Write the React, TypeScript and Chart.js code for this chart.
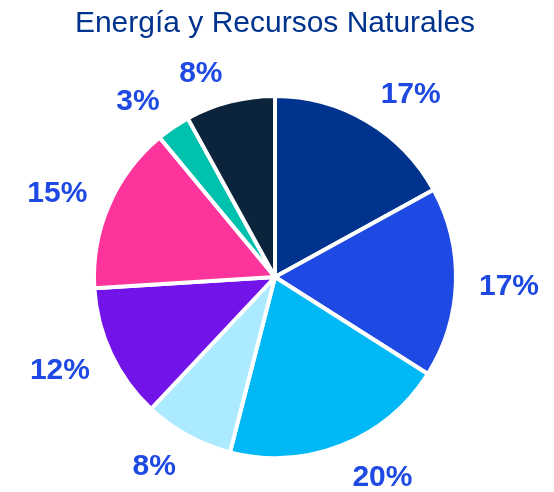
import { useEffect, useRef } from 'react';
import { Chart, registerables } from 'chart.js';

Chart.register(...registerables);

const TITLE = 'Energía y Recursos Naturales';
const categories = ['Segmento 1', 'Segmento 2', 'Segmento 3', 'Segmento 4', 'Segmento 5', 'Segmento 6', 'Segmento 7', 'Segmento 8'];
const values = [17, 17, 20, 8, 12, 15, 3, 8];
const sliceColors = ['#00338D', '#1E49E2', '#00B8F5', '#ACEAFF', '#7213EA', '#FD349C', '#00C0AE', '#0C233C'];

const FONT = '"Liberation Sans", Arial, Helvetica, sans-serif';
const BORDER = 4;

const outsideLabels = {
  id: 'outsideLabels',
  afterDatasetsDraw(chart: any) {
    const ctx = chart.ctx;
    const meta = chart.getDatasetMeta(0);
    const data = chart.data.datasets[0].data as number[];
    const total = data.reduce((a, b) => a + b, 0);
    ctx.save();
    ctx.font = `bold 30px ${FONT}`;
    ctx.fillStyle = '#1E49E2';
    ctx.textAlign = 'center';
    ctx.textBaseline = 'middle';
    meta.data.forEach((arc: any, i: number) => {
      const { x, y, startAngle, endAngle, outerRadius } = arc.getProps(
        ['x', 'y', 'startAngle', 'endAngle', 'outerRadius'],
        true
      );
      const mid = (startAngle + endAngle) / 2;
      const dx = Math.cos(mid);
      const dy = Math.sin(mid);
      const text = Math.round((data[i] / total) * 100) + '%';
      const w = ctx.measureText(text).width;
      const h = 24;
      const r = outerRadius - BORDER / 2 + 21.5;
      const cx = x + r * dx + (w / 2) * 1.12 * Math.sign(dx);
      const cy = y + r * dy + (h / 2) * Math.max(-1, Math.min(1, 1.2 * dy));
      ctx.fillText(text, cx, cy + 2.5);
    });
    ctx.restore();
  },
};

export default function App() {
  const canvasRef = useRef<HTMLCanvasElement | null>(null);

  useEffect(() => {
    document.documentElement.style.overflow = 'hidden';
    if (!canvasRef.current) return;
    const chart = new Chart(canvasRef.current, {
      type: 'pie',
      data: {
        labels: categories,
        datasets: [
          {
            data: values,
            backgroundColor: sliceColors,
            borderColor: '#ffffff',
            borderWidth: BORDER,
            radius: 181,
          } as any,
        ],
      },
      options: {
        animation: false,
        responsive: false,
        layout: { padding: { top: 0, bottom: 8, left: 0, right: 4 } },
        plugins: {
          legend: { display: false },
          tooltip: { enabled: false },
          title: {
            display: true,
            text: TITLE,
            color: '#00338D',
            font: { family: FONT, size: 30, weight: 'normal', lineHeight: 1 },
            padding: { top: 1, bottom: 31 },
          },
        },
      } as any,
      plugins: [outsideLabels],
    });
    return () => chart.destroy();
  }, []);

  return (
    <div style={{ width: 538, height: 484 }}>
      <canvas ref={canvasRef} width={538} height={484} style={{ display: 'block' }} />
    </div>
  );
}
